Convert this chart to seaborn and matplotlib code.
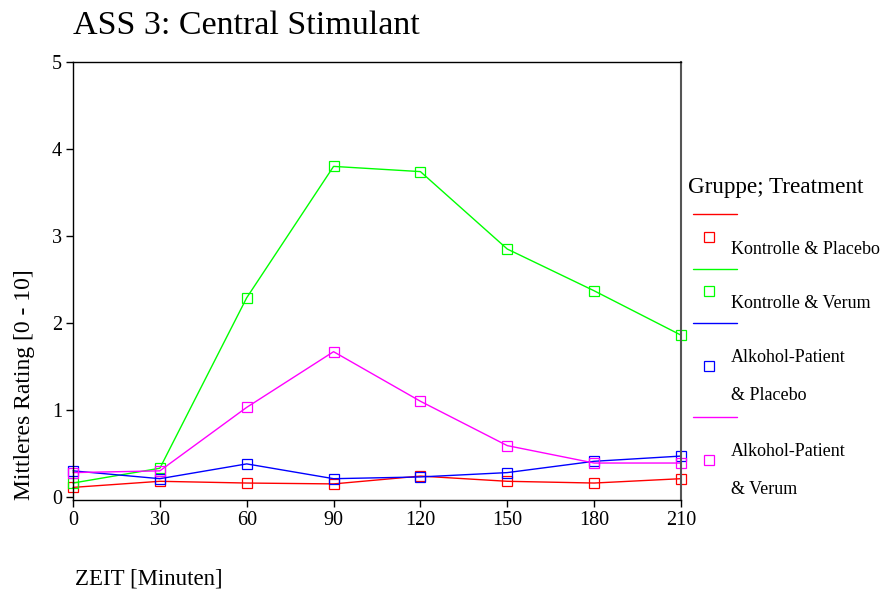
import matplotlib
matplotlib.use("Agg")
import matplotlib.pyplot as plt
from matplotlib.lines import Line2D
import pandas as pd
import seaborn as sns

# Zeitpunkte und mittlere Ratings je Gruppe
zeit = [0, 30, 60, 90, 120, 150, 180, 210]
kontrolle_placebo = [0.11, 0.18, 0.16, 0.15, 0.24, 0.18, 0.16, 0.21]
kontrolle_verum = [0.16, 0.33, 2.29, 3.80, 3.74, 2.85, 2.37, 1.86]
alkohol_placebo = [0.30, 0.21, 0.38, 0.21, 0.23, 0.28, 0.41, 0.47]
alkohol_verum = [0.28, 0.30, 1.03, 1.67, 1.10, 0.59, 0.39, 0.39]

gruppen = ["Kontrolle & Placebo", "Kontrolle & Verum",
           "Alkohol-Patient & Placebo", "Alkohol-Patient & Verum"]
legenden_text = ["Kontrolle & Placebo", "Kontrolle & Verum",
                 "Alkohol-Patient\n& Placebo", "Alkohol-Patient\n& Verum"]
farben = ["#FF0000", "#00FF00", "#0000FF", "#FF00FF"]
y_ticks = [0, 1, 2, 3, 4, 5]

werte = [kontrolle_placebo, kontrolle_verum, alkohol_placebo, alkohol_verum]
df = pd.DataFrame({
    "ZEIT": zeit * len(gruppen),
    "Rating": [v for serie in werte for v in serie],
    "Gruppe": [g for g in gruppen for _ in zeit],
})

sns.set_style("white")
plt.rcParams["font.family"] = ["Liberation Serif", "DejaVu Serif"]
plt.rcParams["text.color"] = "black"
plt.rcParams["axes.labelcolor"] = "black"
plt.rcParams["xtick.color"] = "black"
plt.rcParams["ytick.color"] = "black"

W, H = 892, 590
fig = plt.figure(figsize=(W / 100, H / 100), dpi=100)
ax = fig.add_axes([73 / W, 1 - 500 / H, (681 - 73) / W, (500 - 62) / H])

for g, c in zip(gruppen, farben):
    sub = df[df["Gruppe"] == g]
    sns.lineplot(data=sub, x="ZEIT", y="Rating", ax=ax, color=c,
                 linewidth=1.0, marker="s", markersize=6.5,
                 markerfacecolor="none", markeredgecolor=c,
                 markeredgewidth=0.9, legend=False, clip_on=False)

ax.set_xlim(0, 210)
ax.set_ylim(-0.035, 5)
ax.set_xticks(zeit)
ax.set_yticks(y_ticks)
ax.tick_params(axis="both", direction="out", length=5, width=1.0,
               labelsize=14.5, pad=3, colors="black",
               bottom=True, left=True, top=False, right=False)
for side in ["left", "bottom", "top"]:
    ax.spines[side].set_color("black")
    ax.spines[side].set_linewidth(1.0)
ax.spines["right"].set_color("#555555")
ax.spines["right"].set_linewidth(1.5)

ax.set_title("ASS 3: Central Stimulant", loc="left", fontsize=24.5, pad=20,
             color="black")
ax.set_xlabel("ZEIT [Minuten]", fontsize=16.5, loc="left")
ax.xaxis.set_label_coords(0.003, -0.157)
ax.xaxis.label.set_verticalalignment("top")
ax.set_ylabel("Mittleres Rating [0 - 10]", fontsize=17, loc="bottom")
ax.yaxis.set_label_coords(-0.063, 0.0)


def fy(py):
    return 1 - py / H


# Legende rechts neben dem Diagramm
fig.text(688 / W, fy(187), "Gruppe; Treatment", fontsize=16.7,
         ha="left", va="center")
linien_y = [214, 269, 323, 417]
marker_y = [237, 291, 366, 460]
text_y = [249, 303, 376.5, 470.5]
for c, lab, ly, my, ty in zip(farben, legenden_text, linien_y, marker_y, text_y):
    fig.add_artist(Line2D([693 / W, 737 / W], [fy(ly), fy(ly)],
                          transform=fig.transFigure, color=c, linewidth=1.0))
    fig.add_artist(Line2D([709 / W], [fy(my)], transform=fig.transFigure,
                          marker="s", markersize=6.5, markerfacecolor="none",
                          markeredgecolor=c, markeredgewidth=0.9,
                          linestyle="none"))
    fig.text(731 / W, fy(ty), lab, fontsize=13, ha="left", va="center",
             linespacing=2.62)

fig.savefig("out.png", dpi=100)
